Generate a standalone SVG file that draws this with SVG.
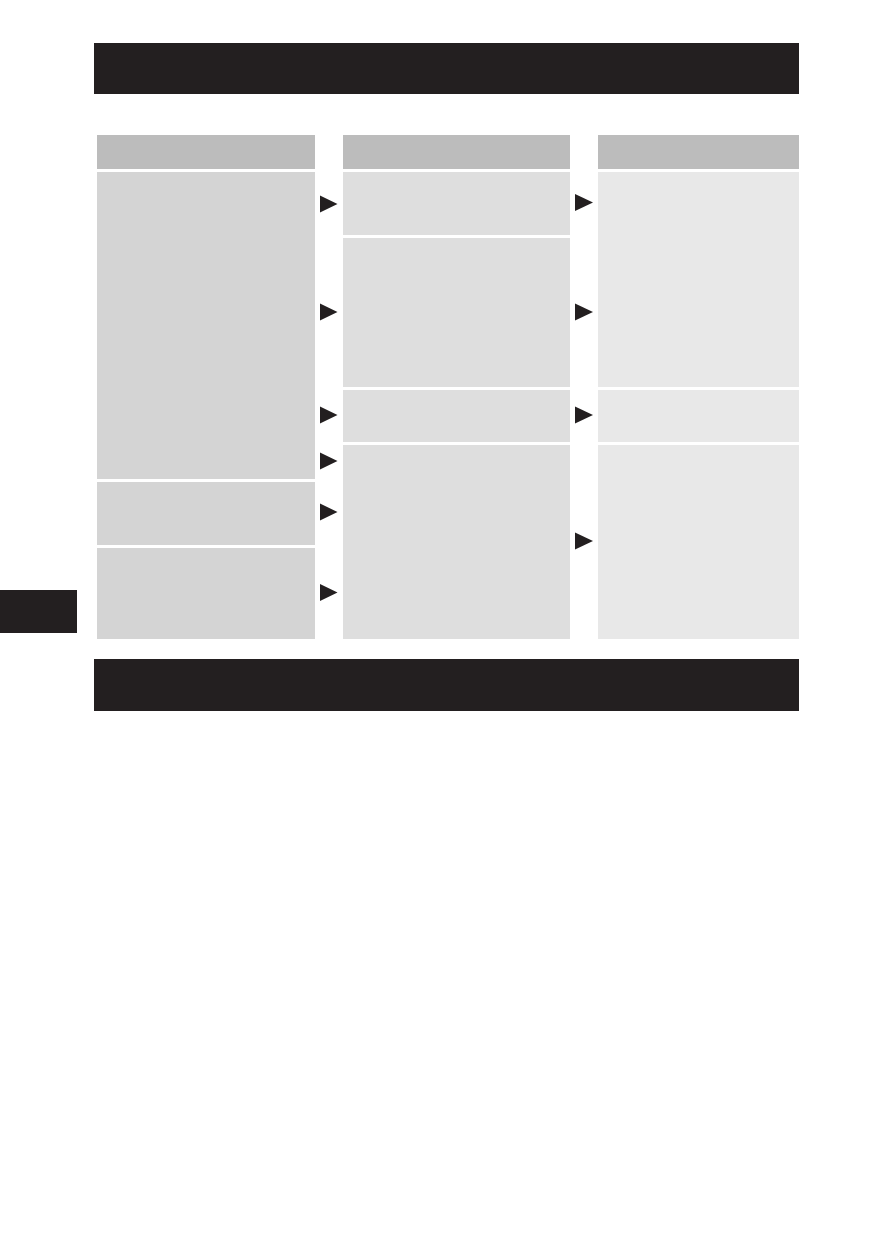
<svg xmlns="http://www.w3.org/2000/svg" width="893" height="1259" viewBox="0 0 893 1259">
<style>
.bar{fill:#231f20}
.hd{fill:#bcbcbc}
.c1{fill:#d4d4d4}
.c2{fill:#dedede}
.c3{fill:#e8e8e8}
.ar{fill:#231f20}
</style>
<rect width="893" height="1259" fill="#ffffff"/>
<g id="top-bar"><rect class="bar" x="94" y="43" width="705" height="51"/></g>
<g id="side-tab"><rect class="bar" x="0" y="590" width="77" height="43"/></g>
<g id="bottom-bar"><rect class="bar" x="94" y="659" width="705" height="52"/></g>
<g id="headers">
<rect class="hd" x="97" y="135" width="218" height="34"/>
<rect class="hd" x="343" y="135" width="227" height="34"/>
<rect class="hd" x="598" y="135" width="201" height="34"/>
</g>
<g id="col1">
<rect id="c1a" class="c1" x="97" y="172" width="218" height="307"/>
<rect id="c1b" class="c1" x="97" y="482" width="218" height="63"/>
<rect id="c1c" class="c1" x="97" y="548" width="218" height="91"/>
</g>
<g id="col2">
<rect id="c2a" class="c2" x="343" y="172" width="227" height="63"/>
<rect id="c2b" class="c2" x="343" y="238" width="227" height="149"/>
<rect id="c2c" class="c2" x="343" y="390" width="227" height="52"/>
<rect id="c2d" class="c2" x="343" y="445" width="227" height="194"/>
</g>
<g id="col3">
<rect id="c3a" class="c3" x="598" y="172" width="201" height="215"/>
<rect id="c3b" class="c3" x="598" y="390" width="201" height="52"/>
<rect id="c3c" class="c3" x="598" y="445" width="201" height="194"/>
</g>
<g id="connectors">
<polygon class="ar" points="320,195.5 337.5,204 320,212.5"/>
<polygon class="ar" points="320,303.5 337.5,312 320,320.5"/>
<polygon class="ar" points="320,406.5 337.5,415 320,423.5"/>
<polygon class="ar" points="320,452.5 337.5,461 320,469.5"/>
<polygon class="ar" points="320,503.5 337.5,512 320,520.5"/>
<polygon class="ar" points="320,584 337.5,592.5 320,601"/>
<polygon class="ar" points="575,194 593,202.5 575,211"/>
<polygon class="ar" points="575,303.5 593,312 575,320.5"/>
<polygon class="ar" points="575,406.5 593,415 575,423.5"/>
<polygon class="ar" points="575,532.5 593,541 575,549.5"/>
</g>
</svg>
